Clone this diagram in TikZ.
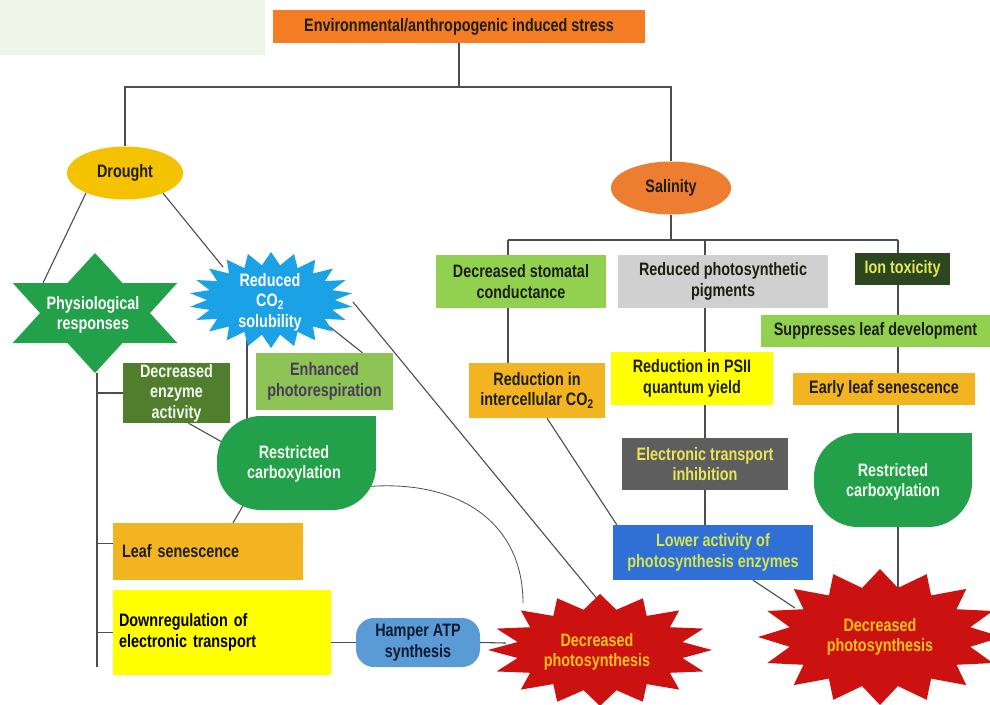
\documentclass[tikz,border=0pt]{standalone}
\usepackage{fontspec}
\setmainfont{Liberation Sans}[FakeStretch=0.8]
\usetikzlibrary{shapes.geometric,calc}
\pgfdeclarelayer{back}
\pgfdeclarelayer{bg}
\pgfsetlayers{back,bg,main}

\definecolor{linegray}{HTML}{4D4D4D}
\definecolor{bgGreen}{HTML}{EEF5E8}
\definecolor{topOrange}{HTML}{F47C22}
\definecolor{droughtY}{HTML}{F5C200}
\definecolor{salOrange}{HTML}{ED7D31}
\definecolor{physGreen}{HTML}{22A14A}
\definecolor{co2Blue}{HTML}{1BA1E6}
\definecolor{enzGreen}{HTML}{507E2C}
\definecolor{enhGreen}{HTML}{8DC455}
\definecolor{enhText}{HTML}{4A3B5C}
\definecolor{leafOrange}{HTML}{F3B421}
\definecolor{yel}{HTML}{FFFF00}
\definecolor{hampBlue}{HTML}{5B9BD5}
\definecolor{hampText}{HTML}{0F1A33}
\definecolor{starRed}{HTML}{CC1111}
\definecolor{starText}{HTML}{F6C21C}
\definecolor{lightGreen}{HTML}{92D050}
\definecolor{pigGray}{HTML}{D0D0D0}
\definecolor{ionGreen}{HTML}{2B4720}
\definecolor{ionText}{HTML}{E6E65A}
\definecolor{etiGray}{HTML}{5E5E5E}
\definecolor{lowerBlue}{HTML}{2F6FD6}
\definecolor{lowerText}{HTML}{D5E64E}
\definecolor{darkText}{HTML}{1E1E10}
\definecolor{whiteText}{HTML}{F2F8F0}

% #1 cx, #2 cy, #3 rx out, #4 ry out, #5 rx in, #6 ry in, #7 points, #8 colour
\newcommand\burstshape[8]{%
  \begin{scope}[shift={(#1,#2)}]
    \pgfmathsetmacro\bstep{360/#7}
    \fill[#8] (90:#3 and #4) \foreach \k in {1,...,#7} { -- ({90+(\k-0.5)*\bstep}:#5 and #6) -- ({90+\k*\bstep}:#3 and #4) } -- cycle;
  \end{scope}}
% #1 x1, #2 y1 (top), #3 x2, #4 y2 (bottom), #5 colour; sharp top-right corner
\newcommand\leafshape[5]{%
  \fill[#5, rounded corners=44pt] (#1,#2) rectangle (#3,#4);
  \fill[#5] ({(#1+#3)/2},#2) rectangle (#3,{(#2+#4)/2});}

\begin{document}
\begin{tikzpicture}[x=1pt,y=-1pt,
  txt/.style={font=\fontsize{18}{20.5}\selectfont\bfseries, align=center, inner sep=0pt},
  conn/.style={draw=linegray, line width=1.1pt}]
\useasboundingbox (0,0) rectangle (990,704);
\begin{pgfonlayer}{back}
\fill[white] (0,0) rectangle (990,704);
\fill[bgGreen] (0,0) rectangle (265,55);
\end{pgfonlayer}

% shapes
\burstshape{95}{313}{95}{60}{55}{34.6}{6}{physGreen}
\burstshape{271}{300}{82}{48}{64}{35}{22}{co2Blue}
\burstshape{600}{650}{112}{56}{84}{41}{16}{starRed}
\burstshape{880}{637}{122}{68}{92}{50}{16}{starRed}
\leafshape{217}{416}{376}{510}{physGreen}
\leafshape{814}{433}{972}{527}{physGreen}

% nodes
\node[txt, fill=topOrange, minimum width=372pt, minimum height=33pt, text=darkText] (top) at (459,26.5) {Environmental/anthropogenic induced stress};
\node[txt, ellipse, fill=droughtY, minimum width=116pt, minimum height=53pt, text=darkText] (drought) at (125,173) {Drought};
\node[txt, ellipse, fill=salOrange, minimum width=120pt, minimum height=53pt, text=darkText] (salinity) at (671,188) {Salinity};
\node[txt, text=white] (phys) at (93,315) {Physiological\\responses};
\node[txt, text=white] (co2) at (270,302) {Reduced\\CO\textsubscript{2}\\solubility};
\node[txt, fill=enzGreen, minimum width=107pt, minimum height=60pt, text=whiteText] (enz) at (176.5,393) {Decreased\\enzyme\\activity};
\node[txt, fill=enhGreen, minimum width=137pt, minimum height=57pt, text=enhText] (enh) at (324.5,381.5) {Enhanced\\photorespiration};
\node[txt, text=whiteText] (rcL) at (294,464) {Restricted\\carboxylation};
\node[txt, fill=leafOrange, minimum width=190pt, minimum height=57pt, text width=172pt, align=left, text=darkText] (leaf) at (208,551.5) {Leaf senescence};
\node[txt, fill=yel, minimum width=218pt, minimum height=85pt, text width=206pt, align=left, text=black] (down) at (222,632.5) {Downregulation of\\electronic transport};
\node[txt, fill=hampBlue, rounded corners=18pt, minimum width=124pt, minimum height=49pt, text=hampText] (hamper) at (418,642.5) {Hamper ATP\\synthesis};
\node[txt, text=starText] (redL) at (597,652) {Decreased\\photosynthesis};
\node[txt, fill=lightGreen, minimum width=170pt, minimum height=53pt, text=darkText] (decStom) at (521,281.5) {Decreased stomatal\\conductance};
\node[txt, fill=pigGray, minimum width=210pt, minimum height=53pt, text=darkText] (redPig) at (723,281.5) {Reduced photosynthetic\\pigments};
\node[txt, fill=ionGreen, minimum width=95pt, minimum height=32pt, text=ionText] (ion) at (902.5,269) {Ion toxicity};
\node[txt, fill=lightGreen, minimum width=229pt, minimum height=32pt, text=darkText] (supp) at (875.5,331) {Suppresses leaf development};
\node[txt, fill=leafOrange, minimum width=136pt, minimum height=55pt, text=darkText] (redInter) at (537,390.5) {Reduction in\\intercellular CO\textsubscript{2}};
\node[txt, fill=yel, minimum width=162pt, minimum height=53pt, text=darkText] (psii) at (692,378.5) {Reduction in PSII\\quantum yield};
\node[txt, fill=leafOrange, minimum width=182pt, minimum height=32pt, text=darkText] (early) at (884,389) {Early leaf senescence};
\node[txt, fill=etiGray, minimum width=166pt, minimum height=52pt, text=ionText] (eti) at (705,464) {Electronic transport\\inhibition};
\node[txt, text=whiteText] (rcR) at (893,482) {Restricted\\carboxylation};
\node[txt, fill=lowerBlue, minimum width=200pt, minimum height=55pt, text=lowerText] (lower) at (713,552.5) {Lower activity of\\photosynthesis enzymes};
\node[txt, text=starText] (redR) at (880,637) {Decreased\\photosynthesis};

% connector points
\coordinate (bus1) at (461,87);
\coordinate (bus2) at (671,240);
\coordinate (b2a) at (508,240);
\coordinate (b2b) at (705,240);
\coordinate (b2c) at (898,240);
\coordinate (physA) at (43,283);
\coordinate (physB) at (97,373);
\coordinate (vEnd) at (97,667);
\coordinate (co2A) at (223,267);
\coordinate (co2B) at (330,327);
\coordinate (co2C) at (247,340);
\coordinate (co2D) at (353,302);
\coordinate (rcLa) at (247,426);
\coordinate (rcLb) at (222,442);
\coordinate (rcLc) at (247,499);
\coordinate (rcLd) at (363,487);
\coordinate (redLa) at (523,603);
\coordinate (redLb) at (598,600);
\coordinate (redLc) at (506,643);
\coordinate (rcRtop) at (898,440);
\coordinate (rcRbot) at (898,515);
\coordinate (redRa) at (898,588);
\coordinate (redRb) at (795,608);
\coordinate (leafJ) at ([yshift=8pt]leaf.west);

\begin{pgfonlayer}{bg}
\draw[conn] (top.south) -- (top.south |- bus1);
\draw[conn] (drought.north) |- (bus1) -| (salinity.north);
\draw[conn] (salinity.south) -- (bus2);
\draw[conn] (b2a) -- (b2c);
\draw[conn] (b2a) -- (b2a |- decStom.north);
\draw[conn] (b2b) -- (b2b |- redPig.north);
\draw[conn] (b2c) -- (b2c |- ion.north);
\draw[conn] (b2a |- decStom.south) -- (b2a |- redInter.north);
\draw[conn] (b2b |- redPig.south) -- (b2b |- psii.north);
\draw[conn] (b2b |- psii.south) -- (b2b |- eti.north);
\draw[conn] (b2b |- eti.south) -- (b2b |- lower.north);
\draw[conn] (b2c |- ion.south) -- (b2c |- supp.north);
\draw[conn] (b2c |- supp.south) -- (b2c |- early.north);
\draw[conn] (b2c |- early.south) -- (rcRtop);
\draw[conn] (rcRbot) -- (redRa);
\draw[conn] ([xshift=10pt]redInter.south) -- ([xshift=4pt]lower.north west);
\draw[conn] ([xshift=40pt]lower.south) -- (redRb);
\draw[conn] (drought.207) -- (physA);
\draw[conn] (drought.-28) -- (co2A);
\draw[conn] (physB) -- (vEnd);
\draw[conn] (enz.west -| physB) -- (enz.west);
\draw[conn] (leafJ -| physB) -- (leafJ);
\draw[conn] (down.west -| physB) -- (down.west);
\draw[conn] (down.east |- hamper.west) -- (hamper.west);
\draw[conn] (hamper.east) -- (redLc);
\draw[conn] (co2B) -- ([xshift=38pt]enh.north);
\draw[conn] (co2C) -- (rcLa);
\draw[conn] ([xshift=12pt]enz.south) -- (rcLb);
\draw[conn] (rcLc) -- ([xshift=25pt]leaf.north);
\draw[conn, line width=0.8pt] (rcLd) .. controls (455,478) and (523,520) .. (redLa);
\draw[conn] (co2D) -- (redLb);
\end{pgfonlayer}
\end{tikzpicture}
\end{document}
